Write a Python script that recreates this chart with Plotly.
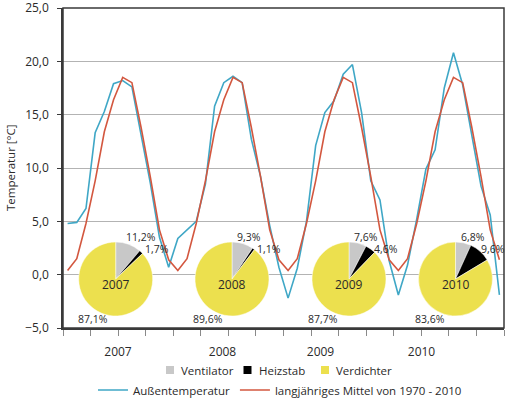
import plotly.graph_objects as go

# ---------------- data ----------------
years = [2007, 2008, 2009, 2010]
months = ["Jan", "Feb", "Mär", "Apr", "Mai", "Jun", "Jul", "Aug", "Sep", "Okt", "Nov", "Dez"]

aussentemperatur = [
    4.8, 4.9, 6.2, 13.3, 15.3, 17.9, 18.2, 17.6, 13.1, 8.6, 3.5, 0.7,     # 2007
    3.4, 4.2, 5.0, 8.5, 15.8, 18.0, 18.6, 18.0, 12.7, 9.2, 4.6, 0.7,      # 2008
    -2.2, 0.6, 5.0, 12.1, 15.2, 16.3, 18.8, 19.7, 15.2, 8.8, 7.0, 1.3,    # 2009
    -1.9, 0.9, 5.2, 9.9, 11.7, 17.5, 20.8, 17.8, 13.0, 8.3, 5.6, -1.9,    # 2010
]
mittel_1970_2010 = [
    0.4, 1.5, 4.8, 8.8, 13.4, 16.4, 18.5, 18.0, 13.8, 9.2, 4.2, 1.4,
    0.4, 1.5, 4.8, 8.8, 13.4, 16.4, 18.5, 18.0, 13.8, 9.2, 4.2, 1.4,
    0.4, 1.5, 4.8, 8.8, 13.4, 16.4, 18.5, 18.0, 13.8, 9.2, 4.2, 1.4,
    0.4, 1.5, 4.8, 8.8, 13.4, 16.4, 18.5, 18.0, 13.8, 9.2, 4.2, 1.4,
]

pie_labels = ["Ventilator", "Heizstab", "Verdichter"]
ventilator = [11.2, 9.3, 7.6, 6.8]
heizstab = [1.7, 1.1, 4.6, 9.6]
verdichter = [87.1, 89.6, 87.7, 83.6]

y_ticks = [-5, 0, 5, 10, 15, 20, 25]

# ---------------- styles / layout geometry ----------------
W, H = 506, 398
ML, MR, MT, MB = 63, 2, 8, 70
PW, PH = W - ML - MR, H - MT - MB
BLUE = "#3fa7c6"
RED = "#d3573f"
GREY = "#c8c8c8"
BLACK = "#000000"
YELLOW = "#ece04e"
PIE_COLORS = [GREY, BLACK, YELLOW]
TXT = "#2a2a2a"
AXIS = "#3a3a3a"
FONT = "Open Sans"

year_label_px = [118, 222.5, 320.5, 421.5]   # pixel x of the year labels
pie_cx = [115.7, 232.0, 349.0, 455.5]         # pixel centres of the pies
pie_cy = 279.0
pie_r = 37.0
vent_dx = [8, 3, 3, 3]
heiz_dx = [27, 23, 23, 23]
verd_dx = [-23, -24.5, -26, -25.5]
pie_legend_sq_px = [166, 243.5, 321]          # left edge of legend squares
pie_legend_y = 370

n = len(years) * len(months)
xpos = [i + 0.5 for i in range(n)]
month_names = [f"{m} {y}" for y in years for m in months]


def px_x(px):
    return (px - ML) / PW


def px_y(py):
    return (H - MB - py) / PH


def px_to_data_x(px):
    return (px - ML) / PW * n


def label(px, py, text, size, xanchor="center", angle=0):
    return dict(x=px_x(px), y=px_y(py), xref="paper", yref="paper",
                xanchor=xanchor, yanchor="middle", text=text, textangle=angle,
                showarrow=False, font=dict(size=size, color=TXT))


fig = go.Figure()

fig.add_trace(go.Scatter(
    x=xpos, y=aussentemperatur, mode="lines", name="Außentemperatur",
    line=dict(color=BLUE, width=1.6), legend="legend2", text=month_names,
))
fig.add_trace(go.Scatter(
    x=xpos, y=mittel_1970_2010, mode="lines", name="langjähriges Mittel von 1970 - 2010",
    line=dict(color=RED, width=1.6), legend="legend2", text=month_names,
))


def fmt(v):
    return f"{v:.1f}".replace(".", ",") + "%"


annotations = []
shapes = []
for k, yr in enumerate(years):
    cx = pie_cx[k]
    vals = [ventilator[k], heizstab[k], verdichter[k]]
    fig.add_trace(go.Pie(
        labels=pie_labels, values=vals, sort=False, direction="clockwise",
        rotation=0, textinfo="none", hoverinfo="label+percent",
        marker=dict(colors=PIE_COLORS, line=dict(color="white", width=0.5)),
        domain=dict(x=[px_x(cx - pie_r), px_x(cx + pie_r)],
                    y=[px_y(pie_cy + pie_r), px_y(pie_cy - pie_r)]),
        showlegend=False, name=str(yr),
    ))
    annotations.append(label(cx, pie_cy + 5, str(yr), 12))
    annotations.append(label(cx + vent_dx[k], 237, fmt(ventilator[k]), 10.5, "left"))
    annotations.append(label(cx + heiz_dx[k], 248.5, fmt(heizstab[k]), 10.5, "left"))
    annotations.append(label(cx + verd_dx[k], 318.5, fmt(verdichter[k]), 10.5))

# legend for the pie slices (square swatch + label)
for lab, col, sx in zip(pie_labels, PIE_COLORS, pie_legend_sq_px):
    shapes.append(dict(type="rect", xref="paper", yref="paper",
                       x0=px_x(sx), x1=px_x(sx + 8),
                       y0=px_y(pie_legend_y + 4), y1=px_y(pie_legend_y - 4),
                       fillcolor=col, line=dict(width=0)))
    annotations.append(label(sx + 13, pie_legend_y, lab, 11.5, "left"))

# plot frame
shapes.append(dict(type="rect", xref="paper", yref="paper", x0=0, x1=1, y0=0, y1=1,
                   line=dict(color=AXIS, width=1.5), layer="above"))

annotations.append(label(10, 168, "Temperatur [°C]", 11.5, "center", -90))

fig.update_layout(
    width=W, height=H, autosize=False,
    margin=dict(l=ML, r=MR, t=MT, b=MB, autoexpand=False),
    paper_bgcolor="white", plot_bgcolor="white",
    separators=",.",
    font=dict(family=FONT, size=12, color=TXT),
    annotations=annotations,
    shapes=shapes,
    xaxis=dict(
        range=[0, n], tickvals=[px_to_data_x(p) for p in year_label_px],
        ticktext=[str(y) for y in years],
        ticks="", showgrid=False, zeroline=False, automargin=False,
        showline=True, linecolor=AXIS, linewidth=1.5,
        ticklabelstandoff=12, tickfont=dict(size=12, color=TXT),
        minor=dict(tickvals=list(range(0, n + 1, 3)), ticks="outside", ticklen=6,
                   tickcolor="#8a8a8a", tickwidth=1, showgrid=False),
        fixedrange=True,
    ),
    yaxis=dict(
        range=[-5, 25], tickvals=y_ticks, tickformat=".1f",
        showgrid=True, gridcolor="#b3b3b3", gridwidth=1, zeroline=False, automargin=False,
        showline=True, linecolor=AXIS, linewidth=1.5,
        ticks="outside", ticklen=4, tickcolor=AXIS,
        ticklabelstandoff=6, ticklabeloverflow="allow", tickfont=dict(size=12, color=TXT),
        fixedrange=True,
    ),
    legend2=dict(orientation="h", xref="container", yref="container",
                 x=280 / W, xanchor="center", y=1 - 390 / H, yanchor="middle",
                 font=dict(size=11.5, color=TXT), itemwidth=30, bgcolor="rgba(0,0,0,0)"),
)

fig.write_html("out.html", config={"displayModeBar": False},
               post_script="document.body.style.margin='0px';document.body.style.overflow='hidden';")
